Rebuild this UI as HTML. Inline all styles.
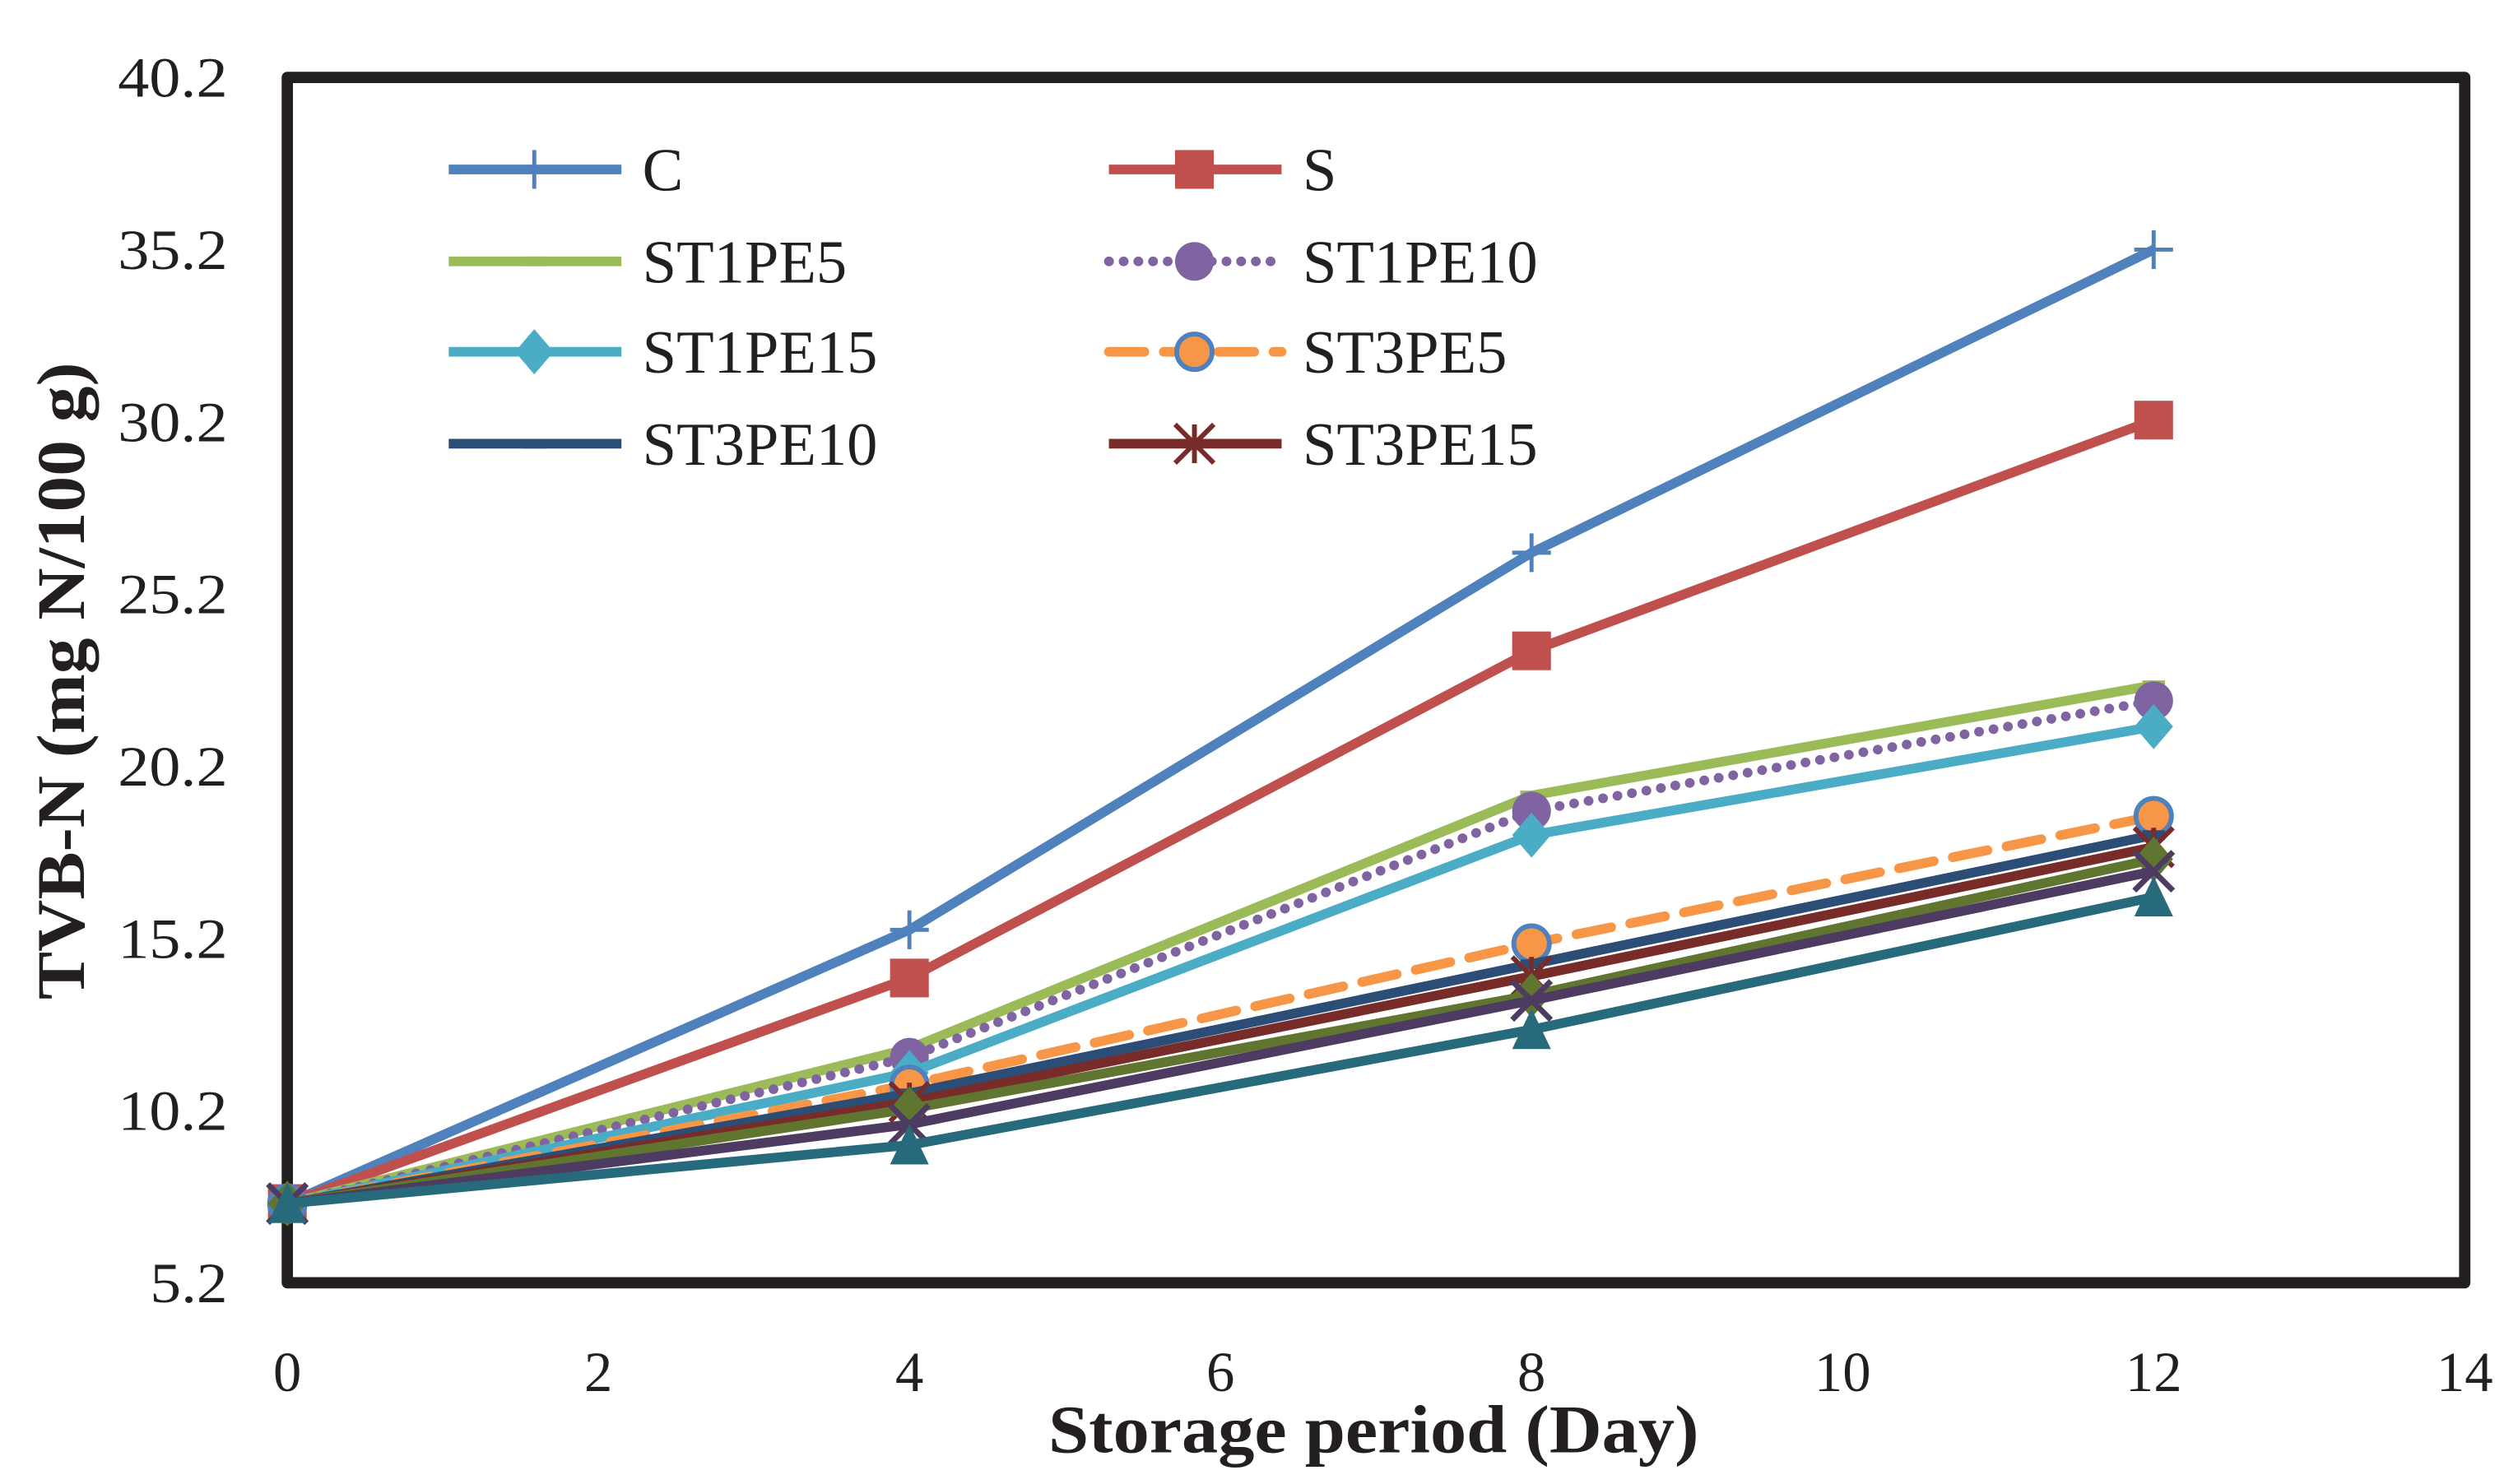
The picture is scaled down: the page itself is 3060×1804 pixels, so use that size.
<!DOCTYPE html>
<html><head><meta charset="utf-8"><style>
html,body{margin:0;padding:0;background:#fff;}
svg{display:block;}
text{font-family:"Liberation Serif",serif;}
</style></head><body>
<svg id="chart" width="3060" height="1804" viewBox="0 0 1560 919.7" preserveAspectRatio="none" xmlns="http://www.w3.org/2000/svg"></svg>
<script>
const days = [0, 4, 8, 12];
const seriesNames = ["C","S","ST1PE5","ST1PE10","ST1PE15","ST3PE5","ST3PE10","ST3PE15","extra-olive","extra-purple","extra-teal"];
const valsC = [7.5, 15.45, 26.4, 35.2];
const valsS = [7.5, 14.05, 23.55, 30.25];
const valsST1PE5 = [7.5, 12.0, 19.35, 22.55];
const valsST1PE10 = [7.5, 11.75, 18.9, 22.1];
const valsST1PE15 = [7.5, 11.3, 18.2, 21.35];
const valsST3PE5 = [7.5, 10.95, 15.05, 18.75];
const valsST3PE10 = [7.5, 10.7, 14.45, 18.2];
const valsST3PE15 = [7.5, 10.45, 14.1, 17.85];
const valsOlive = [7.5, 10.25, 13.55, 17.5];
const valsPurple = [7.5, 9.8, 13.4, 17.15];
const valsTeal = [7.5, 9.2, 12.55, 16.4];
const yTicks = [5.2, 10.2, 15.2, 20.2, 25.2, 30.2, 35.2, 40.2];
const xTicks = [0, 2, 4, 6, 8, 10, 12, 14];

const NS = "http://www.w3.org/2000/svg";
const svg = document.getElementById("chart");
const L=178, R=1527, T=48, B=795;
const xs = v => L + (v-0)/(14-0)*(R-L);
const ys = v => B - (v-5.2)/(40.2-5.2)*(B-T);
function mk(tag, attrs, parent){ const e=document.createElementNS(NS,tag); for(const k in attrs) e.setAttribute(k,attrs[k]); (parent||svg).appendChild(e); return e; }

const frame = mk("rect",{x:L,y:T,width:R-L,height:B-T,fill:"#fff",stroke:"#231f20","stroke-width":7,"stroke-linejoin":"round"});



yTicks.forEach(v=>{
  const t=mk("text",{x:141,y:ys(v)+12,"text-anchor":"end","font-size":35,fill:"#231f20",textLength:68,lengthAdjust:"spacingAndGlyphs"});
  if(v<10) { t.setAttribute("textLength",48); }
  t.textContent=v.toFixed(1);
  
  
});
xTicks.forEach(v=>{
  const t=mk("text",{x:xs(v),y:862,"text-anchor":"middle","font-size":35,fill:"#231f20"});
  t.textContent=v;
  
  
});
const xt=mk("text",{x:851,y:900,"text-anchor":"middle","font-size":42,"font-weight":"bold",fill:"#231f20",textLength:403,lengthAdjust:"spacingAndGlyphs"});
xt.textContent="Storage period (Day)";


const yt=mk("text",{x:0,y:0,"text-anchor":"middle","font-size":42,"font-weight":"bold",fill:"#231f20",transform:"translate(52,422) rotate(-90)",textLength:395,lengthAdjust:"spacingAndGlyphs"});
yt.textContent="TVB-N (mg N/100 g)";



function marker(g, type, x, y, color){
  const s=12;
  if(type==="plus"){ mk("path",{d:`M${x-s} ${y}H${x+s}M${x} ${y-s}V${y+s}`,stroke:color,"stroke-width":2.5},g); }
  else if(type==="square"){ mk("rect",{x:x-s,y:y-s,width:2*s,height:2*s,fill:color},g); }
  else if(type==="dash"){ mk("path",{d:`M${x-7} ${y}H${x+7}`,stroke:color,"stroke-width":6},g); }
  else if(type==="circle"){ mk("ellipse",{cx:x,cy:y,rx:s,ry:s,fill:color},g); }
  else if(type==="circle2"){ mk("ellipse",{cx:x,cy:y,rx:s-1,ry:s-1,fill:"#F79646",stroke:"#4F81BD","stroke-width":3},g); }
  else if(type==="diamond"){ mk("path",{d:`M${x} ${y-s-2}L${x+s} ${y}L${x} ${y+s+2}L${x-s} ${y}Z`,fill:color},g); }
  else if(type==="star"){ mk("path",{d:`M${x-s} ${y-s}L${x+s} ${y+s}M${x-s} ${y+s}L${x+s} ${y-s}M${x} ${y-s}V${y+s}`,stroke:color,"stroke-width":3},g); }
  else if(type==="x"){ mk("path",{d:`M${x-s} ${y-s}L${x+s} ${y+s}M${x-s} ${y+s}L${x+s} ${y-s}`,stroke:color,"stroke-width":3.5},g); }
  else if(type==="tri"){ mk("path",{d:`M${x} ${y-s-1}L${x+s} ${y+s}L${x-s} ${y+s}Z`,fill:color},g); }
}

const seriesDefs = [
  {vals:valsC,color:"#4F81BD",m:"plus",dash:null},
  {vals:valsS,color:"#C0504D",m:"square",dash:null},
  {vals:valsST1PE5,color:"#9BBB59",m:"dash",dash:null},
  {vals:valsST1PE10,color:"#8064A2",m:"circle",dash:"0.1 9"},
  {vals:valsST1PE15,color:"#4BACC6",m:"diamond",dash:null},
  {vals:valsST3PE5,color:"#F79646",m:"circle2",dash:"22 12"},
  {vals:valsST3PE10,color:"#2C4D75",m:"dash",dash:null},
  {vals:valsST3PE15,color:"#772C2A",m:"star",dash:null},
  {vals:valsOlive,color:"#5F7530",m:"diamond",dash:null},
  {vals:valsPurple,color:"#4D3B62",m:"x",dash:null},
  {vals:valsTeal,color:"#276A7C",m:"tri",dash:null}
];
seriesDefs.forEach((sd,i)=>{
  const g=mk("g",{});
  
  
  const pts=sd.vals.map((v,j)=>xs(days[j])+","+ys(v)).join(" ");
  const attrs={points:pts,fill:"none",stroke:sd.color,"stroke-width":6,"stroke-linejoin":"round"};
  if(sd.dash){attrs["stroke-dasharray"]=sd.dash; attrs["stroke-linecap"]="round";}
  mk("polyline",attrs,g);
  sd.vals.forEach((v,j)=>marker(g,sd.m,xs(days[j]),ys(v),sd.color));
});

const legRows=[105,162,218,275];
for(let i=0;i<8;i++){
  const col=i%2, row=Math.floor(i/2);
  const sd=seriesDefs[i];
  const x0=col?687:278, y=legRows[row];
  const g=mk("g",{});
  
  
  const a={x1:x0,y1:y,x2:x0+107,y2:y,stroke:sd.color,"stroke-width":6};
  if(sd.dash){a["stroke-dasharray"]=sd.dash;a["stroke-linecap"]="round";}
  mk("line",a,g);
  marker(g,sd.m,x0+53,y,sd.color);
  const t=mk("text",{x:x0+120,y:y+13,"font-size":38,fill:"#231f20"},g);
  t.textContent=seriesNames[i];
}
</script>
</body></html>
